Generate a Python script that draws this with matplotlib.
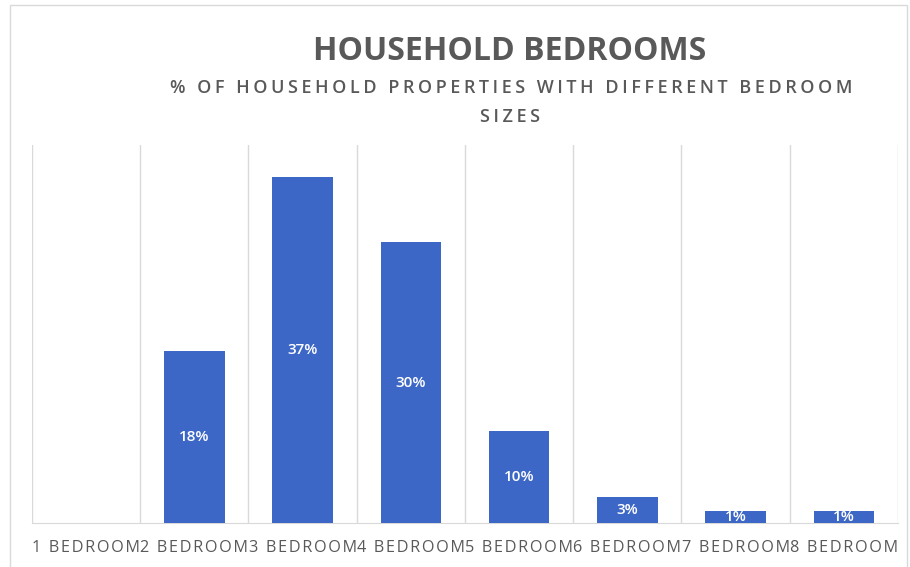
import matplotlib.pyplot as plt
import numpy as np
from matplotlib.patches import Rectangle

categories = ["1 BEDROOM", "2 BEDROOM", "3 BEDROOM", "4 BEDROOM",
              "5 BEDROOM", "6 BEDROOM", "7 BEDROOM", "8 BEDROOM"]
shares = [0, 18.4, 37, 30, 9.8, 2.8, 1.3, 1.3]  # % of properties
labels = ["", "18%", "37%", "30%", "10%", "3%", "1%", "1%"]

plt.rcParams['font.family'] = ['Open Sans', 'DejaVu Sans']
HS = "\u200a"  # hair space for letter spacing


def spaced(s, sep=HS):
    return sep.join(s)


W, H = 910, 567
fig = plt.figure(figsize=(W / 100, H / 100), dpi=100)
ax = fig.add_axes([32 / W, (H - 523) / H, 866 / W, 378 / H])

x = np.arange(len(categories))
bars = ax.bar(x, shares, width=0.56, color='#3D67C6', zorder=3)

for xi, v, lab in zip(x, shares, labels):
    if lab:
        ax.text(xi, v / 2, lab, ha='center', va='center', color='white',
                fontsize=11, fontweight='semibold', zorder=4)

ax.set_xlim(-0.5, len(categories) - 0.5)
ax.set_ylim(0, 40.4)

# vertical gridlines between categories
for b in np.arange(-0.5, len(categories) + 0.5, 1):
    ax.axvline(b, color='#D9D9D9', lw=1, zorder=1)

for s in ['top', 'left', 'right']:
    ax.spines[s].set_visible(False)
ax.spines['bottom'].set_color('#D9D9D9')
ax.set_yticks([])
ax.set_xticks(x)
ax.set_xticklabels([spaced(c) for c in categories], fontsize=11.7,
                   color='#595959')
ax.tick_params(axis='x', length=0, pad=12)

fig.text(510 / W, 1 - 52 / H, "HOUSEHOLD BEDROOMS", ha='center', va='center',
         fontsize=23, fontweight='bold', color='#595959')
fig.text(511 / W, 1 - 88 / H,
         spaced("% OF HOUSEHOLD PROPERTIES WITH DIFFERENT BEDROOM", HS * 2),
         ha='center', va='center', fontsize=13, fontweight='semibold',
         color='#595959')
fig.text(510 / W, 1 - 117 / H, spaced("SIZES", HS * 2), ha='center',
         va='center', fontsize=13, fontweight='semibold', color='#595959')

# outer chart frame
fig.patches.append(Rectangle((10 / W, -0.05), 897 / W, 1.05 - 5 / H,
                             transform=fig.transFigure, fill=False,
                             edgecolor='#D9D9D9', lw=1))

plt.savefig('out.png', dpi=100)
